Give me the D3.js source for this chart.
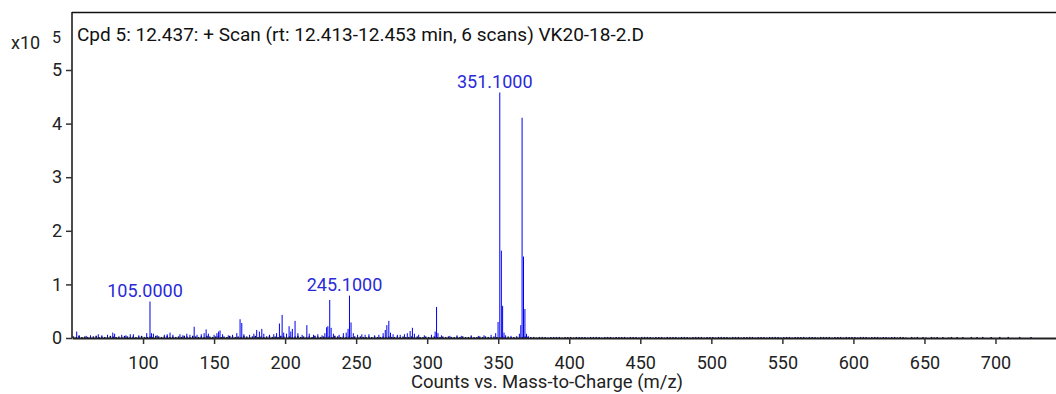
<!DOCTYPE html>
<html>
<head>
  <meta charset="utf-8">
  <title>Cpd 5 spectrum</title>
  <script src="https://cdn.jsdelivr.net/npm/d3@7"></script>
  <style>
    body { margin: 0; background: #fff; }
    text { font-family: Roboto, "Liberation Sans", sans-serif; }
  </style>
</head>
<body>
  <script>
    const width = 1056;
    const height = 394;

    // counts in units of 10^5
    const titleText = "Cpd 5: 12.437: + Scan (rt: 12.413-12.453 min, 6 scans) VK20-18-2.D";
    const xTicks = [100, 150, 200, 250, 300, 350, 400, 450, 500, 550, 600, 650, 700];
    const yTicks = [0, 1, 2, 3, 4, 5];

    const peakMz = [53.3, 55, 60, 63, 68.5, 71, 75, 78.7, 80, 85, 88, 91, 93.2, 97, 102.6, 104.9, 106, 107.3, 110, 115,
      117, 119, 121, 126, 128, 130.8, 133, 136, 138, 141, 143, 144.4, 146, 150, 152, 153.2, 154.2, 156, 160, 163,
      166, 168.3, 169.5, 171, 175, 178, 180, 181.9, 183.6, 185, 189, 192, 194, 196, 197.9, 199, 201, 202.8, 204, 205.1,
      207, 209, 212, 215.3, 217, 220, 223, 226, 228, 229.2, 230.1, 231.4, 232.4, 234, 238, 241, 243, 244.3, 245.3, 246.4,
      248, 251, 254, 256.3, 259, 263, 266, 269, 270.5, 271.6, 273, 274.2, 276, 279, 281, 284, 286, 288, 289.6, 291,
      294, 298, 303, 305.6, 306.6, 307.6, 310, 316, 321, 324, 331, 336, 340, 345, 348.2, 349.9, 351.1, 352.2, 353.1, 354.1,
      355.2, 359, 364.9, 365.9, 366.8, 367.8, 368.8, 369.9, 371.1];
    const peakInt = [0.12, 0.05, 0.04, 0.05, 0.07, 0.05, 0.06, 0.10, 0.08, 0.06, 0.05, 0.07, 0.07, 0.05, 0.09, 0.68, 0.09, 0.08, 0.05, 0.06,
      0.07, 0.10, 0.06, 0.07, 0.05, 0.08, 0.06, 0.21, 0.06, 0.07, 0.09, 0.16, 0.08, 0.06, 0.09, 0.12, 0.14, 0.07, 0.05, 0.06,
      0.09, 0.35, 0.28, 0.07, 0.06, 0.08, 0.15, 0.12, 0.17, 0.08, 0.06, 0.07, 0.09, 0.27, 0.43, 0.10, 0.08, 0.22, 0.12, 0.17,
      0.32, 0.09, 0.06, 0.24, 0.08, 0.06, 0.07, 0.05, 0.09, 0.20, 0.22, 0.71, 0.19, 0.08, 0.06, 0.09, 0.10, 0.17, 0.79, 0.29,
      0.09, 0.06, 0.07, 0.06, 0.07, 0.05, 0.06, 0.09, 0.15, 0.24, 0.32, 0.10, 0.07, 0.06, 0.06, 0.07, 0.09, 0.13, 0.19, 0.08,
      0.06, 0.05, 0.06, 0.12, 0.58, 0.09, 0.05, 0.04, 0.05, 0.04, 0.05, 0.04, 0.05, 0.06, 0.09, 0.30, 4.58, 1.63, 0.60, 0.10,
      0.05, 0.04, 0.08, 0.24, 4.11, 1.52, 0.54, 0.08, 0.04];

    const labelMz = [104.9, 245.3, 351.1];
    const labelInt = [0.68, 0.79, 4.58];
    const labelText = ["105.0000", "245.1000", "351.1000"];

    // baseline noise, one value every 2 m/z starting at 51
    const noiseStart = 51;
    const noiseStep = 2;
    const noiseInt = [
      0.03, 0.02, 0.04, 0.02, 0.03, 0.02, 0.02, 0.03, 0.04, 0.02, 0.03, 0.02, 0.02, 0.04, 0.03, 0.02, 0.03, 0.02, 0.04, 0.03,
      0.02, 0.03, 0.02, 0.03, 0.04, 0.02, 0.02, 0.03, 0.02, 0.04, 0.03, 0.02, 0.03, 0.04, 0.02, 0.03, 0.02, 0.03, 0.02, 0.04,
      0.03, 0.02, 0.04, 0.03, 0.02, 0.03, 0.02, 0.04, 0.03, 0.02, 0.03, 0.04, 0.02, 0.03, 0.02, 0.04, 0.03, 0.02, 0.03, 0.02,
      0.04, 0.03, 0.02, 0.03, 0.04, 0.02, 0.03, 0.02, 0.03, 0.04, 0.02, 0.03, 0.02, 0.04, 0.03, 0.02, 0.03, 0.02, 0.03, 0.04,
      0.02, 0.03, 0.02, 0.03, 0.02, 0.04, 0.03, 0.02, 0.03, 0.02, 0.03, 0.02, 0.04, 0.03, 0.02, 0.03, 0.02, 0.03, 0.02, 0.03,
      0.02, 0.03, 0.02, 0.02, 0.03, 0.02, 0.03, 0.02, 0.02, 0.03, 0.02, 0.03, 0.02, 0.02, 0.03, 0.02, 0.03, 0.02, 0.02, 0.03,
      0.02, 0.03, 0.02, 0.02, 0.03, 0.02, 0.02, 0.03, 0.02, 0.02, 0.03, 0.02, 0.03, 0.02, 0.02, 0.03, 0.02, 0.03, 0.02, 0.02,
      0.03, 0.02, 0.02, 0.03, 0.02, 0.03, 0.02, 0.02, 0.03, 0.02, 0.02, 0.03, 0.02, 0.03, 0.02, 0.02, 0.03, 0.02, 0.02, 0.03,
      0.02, 0.02, 0.02, 0.01, 0.02, 0.02, 0.02, 0.01, 0.02, 0.02, 0.02, 0.02, 0.01, 0.02, 0.02, 0.02, 0.01, 0.02, 0.02, 0.02,
      0.02, 0.01, 0.02, 0.02, 0.02, 0.02, 0.01, 0.02, 0.02, 0.02, 0.01, 0.02, 0.02, 0.02, 0.02, 0.01, 0.02, 0.02, 0.02, 0.01,
      0.02, 0.02, 0.02, 0.02, 0.01, 0.02, 0.02, 0.02, 0.01, 0.02, 0.02, 0.02, 0.02, 0.01, 0.02, 0.02, 0.02, 0.01, 0.02, 0.02,
      0.02, 0.02, 0.01, 0.02, 0.02, 0.02, 0.01, 0.02, 0.02, 0.02, 0.02, 0.01, 0.02, 0.02, 0.02, 0.01, 0.02, 0.02, 0.02, 0.02,
      0.01, 0.02, 0.02, 0.02, 0.01, 0.02, 0.02, 0.02, 0.02, 0.01, 0.02, 0.02, 0.02, 0.01, 0.02, 0.02, 0.02, 0.02, 0.01, 0.02,
      0.02, 0.02, 0.01, 0.02, 0.02, 0.02, 0.02, 0.01, 0.02, 0.02, 0.02, 0.01, 0.02, 0.02, 0.02, 0.02, 0.01, 0.02, 0.02, 0.02,
      0.01, 0.02, 0.02, 0.02, 0.01, 0.02, 0.02, 0.01, 0.02, 0.02, 0.01, 0.02, 0.02, 0.01, 0, 0.02, 0.01, 0.02, 0, 0.02,
      0.01, 0, 0.02, 0.01, 0.02, 0, 0.02, 0, 0.01, 0.02, 0, 0.02, 0, 0.02, 0, 0, 0.02, 0, 0.02, 0,
      0.02, 0, 0, 0.02, 0, 0, 0.02, 0, 0, 0.02, 0, 0, 0, 0.02, 0, 0, 0, 0.02, 0];

    const margin = { top: 12, right: 0, bottom: 56, left: 72 };
    const x = d3.scaleLinear().domain([50, 742.6]).range([margin.left, width - margin.right]);
    const y = d3.scaleLinear().domain([0, 5]).range([338, 70]);

    const svg = d3.select("body").append("svg")
      .attr("width", width)
      .attr("height", height);

    // frame: top edge
    svg.append("line")
      .attr("x1", margin.left).attr("x2", width)
      .attr("y1", margin.top + 0.5).attr("y2", margin.top + 0.5)
      .attr("stroke", "#111").attr("stroke-width", 1.5);

    const noise = noiseInt.map((v, i) => ({ mz: noiseStart + i * noiseStep, v: v }));
    const peaks = peakMz.map((m, i) => ({ mz: m, v: peakInt[i] }));

    svg.append("g").selectAll("line")
      .data(noise.filter(d => d.v > 0))
      .enter().append("line")
      .attr("x1", d => x(d.mz)).attr("x2", d => x(d.mz))
      .attr("y1", y(0)).attr("y2", d => y(d.v))
      .attr("stroke", "#000070")
      .attr("stroke-width", 1.5);

    svg.append("g").selectAll("line")
      .data(peaks)
      .enter().append("line")
      .attr("x1", d => x(d.mz)).attr("x2", d => x(d.mz))
      .attr("y1", y(0)).attr("y2", d => y(d.v))
      .attr("stroke", "#0000f0")
      .attr("stroke-width", 1);

    svg.append("g").selectAll("text")
      .data(labelText)
      .enter().append("text")
      .attr("x", (d, i) => x(labelMz[i]) - 5)
      .attr("y", (d, i) => y(labelInt[i]) - 5)
      .attr("text-anchor", "middle")
      .attr("font-size", 18)
      .attr("fill", "#2a2ad8")
      .text(d => d);

    const axisX = d3.axisBottom(x).tickValues(xTicks).tickSize(6).tickPadding(12).tickSizeOuter(0);
    const gX = svg.append("g")
      .attr("transform", `translate(0,${y(0)})`)
      .call(axisX);
    gX.select(".domain").attr("stroke", "#222").attr("stroke-width", 2);
    gX.selectAll(".tick line").attr("stroke", "#333").attr("stroke-width", 1.5);
    gX.selectAll(".tick text").attr("font-size", 18).attr("fill", "#222")
      .style("font-family", "Roboto, sans-serif");

    const axisY = d3.axisLeft(y).tickValues(yTicks).tickFormat(d3.format("d"))
      .tickSize(6).tickPadding(4).tickSizeOuter(0);
    const gY = svg.append("g")
      .attr("transform", `translate(${margin.left},0)`)
      .call(axisY);
    gY.select(".domain").attr("d", `M0,${margin.top}V${y(0)}`).attr("stroke", "#111").attr("stroke-width", 1.5);
    gY.selectAll(".tick line").attr("stroke", "#333").attr("stroke-width", 1.5);
    gY.selectAll(".tick text").attr("font-size", 18).attr("fill", "#222")
      .style("font-family", "Roboto, sans-serif");

    svg.append("text")
      .attr("x", 77).attr("y", 41)
      .attr("font-size", 19).attr("fill", "#111")
      .text(titleText);

    svg.append("text")
      .attr("x", 11).attr("y", 49)
      .attr("font-size", 18).attr("fill", "#222")
      .text("x10");
    svg.append("text")
      .attr("x", 52).attr("y", 43)
      .attr("font-size", 16).attr("fill", "#222")
      .text("5");

    svg.append("text")
      .attr("x", 547).attr("y", 388)
      .attr("text-anchor", "middle")
      .attr("font-size", 18.5).attr("fill", "#222")
      .text("Counts vs. Mass-to-Charge (m/z)");
  </script>
</body>
</html>
